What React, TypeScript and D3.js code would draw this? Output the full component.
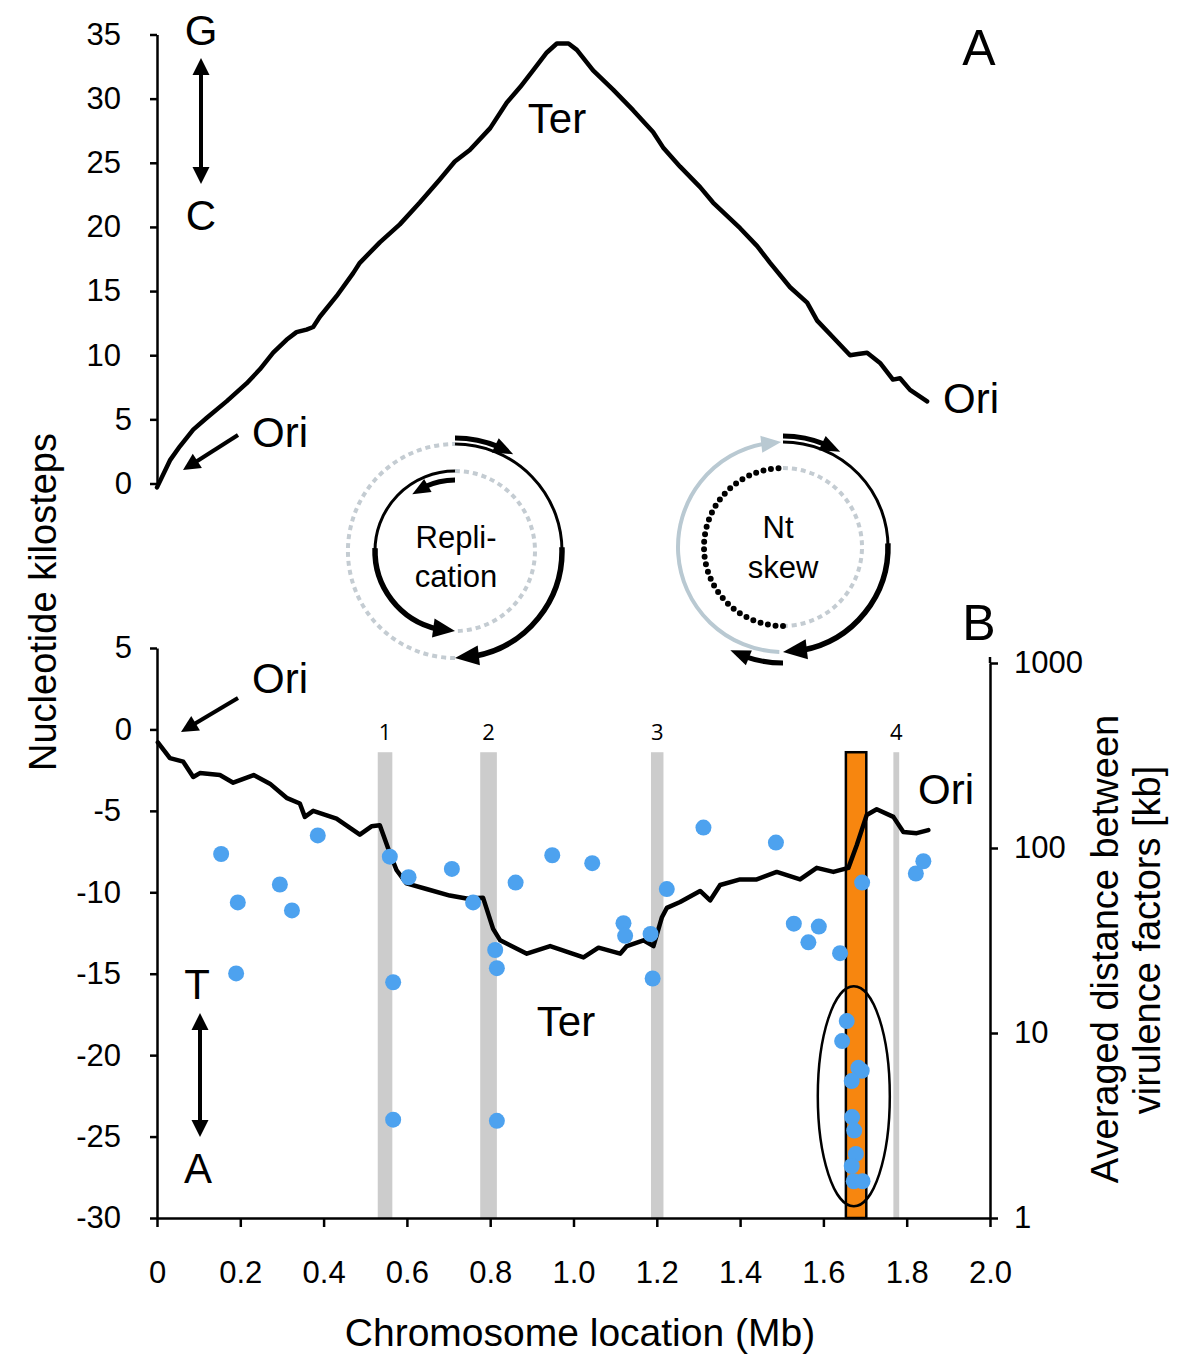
import { useEffect, useRef } from 'react';
import * as d3 from 'd3';

const FONT = "'Liberation Sans', Arial, sans-serif";

// Panel A - cumulative G/C skew: [chromosome location (Mb), nucleotide kilosteps]
const skewGC: [number, number][] = [
  [0, -0.3], [0.031, 1.8], [0.055, 2.9], [0.087, 4.2], [0.119, 5.1], [0.167, 6.4],
  [0.215, 7.8], [0.247, 8.9], [0.279, 10.2], [0.311, 11.2], [0.335, 11.8], [0.359, 12.0],
  [0.375, 12.2], [0.391, 13.0], [0.431, 14.6], [0.471, 16.4], [0.487, 17.2], [0.535, 18.8],
  [0.583, 20.2], [0.631, 21.9], [0.679, 23.7], [0.715, 25.1], [0.751, 26.0], [0.800, 27.7],
  [0.840, 29.7], [0.872, 30.9], [0.903, 32.2], [0.936, 33.6], [0.960, 34.3], [0.988, 34.3],
  [1.008, 33.8], [1.047, 32.2], [1.095, 30.7], [1.143, 29.1], [1.191, 27.4], [1.215, 26.2],
  [1.256, 24.7], [1.304, 23.1], [1.335, 21.9], [1.400, 19.9], [1.441, 18.5], [1.472, 17.2],
  [1.520, 15.3], [1.561, 14.1], [1.585, 12.7], [1.623, 11.4], [1.664, 10.0], [1.683, 10.1],
  [1.705, 10.2], [1.736, 9.4], [1.767, 8.1], [1.784, 8.2], [1.808, 7.3], [1.849, 6.4],
];

// Panel B - cumulative T/A skew
const skewTA: [number, number][] = [
  [0.002, -0.8], [0.031, -1.76], [0.063, -1.98], [0.087, -2.92], [0.103, -2.68], [0.151, -2.8],
  [0.183, -3.27], [0.232, -2.8], [0.271, -3.33], [0.311, -4.2], [0.343, -4.55], [0.355, -5.37],
  [0.375, -5.0], [0.431, -5.48], [0.487, -6.46], [0.515, -5.95], [0.535, -5.88], [0.559, -7.59],
  [0.575, -8.63], [0.599, -9.45], [0.647, -9.8], [0.703, -10.2], [0.743, -10.38], [0.783, -10.34],
  [0.807, -12.25], [0.824, -12.95], [0.888, -13.77], [0.944, -13.3], [1.024, -14.0], [1.060, -13.4],
  [1.112, -13.77], [1.128, -13.3], [1.168, -12.95], [1.192, -13.3], [1.212, -11.55], [1.224, -10.96],
  [1.256, -10.6], [1.304, -9.92], [1.328, -10.5], [1.352, -9.55], [1.400, -9.21], [1.440, -9.21],
  [1.488, -8.75], [1.544, -9.21], [1.584, -8.5], [1.624, -8.75], [1.660, -8.5], [1.680, -7.11],
  [1.704, -5.25], [1.728, -4.9], [1.768, -5.37], [1.792, -6.3], [1.824, -6.37], [1.852, -6.18],
];

// averaged distance between virulence factors: [location (Mb), distance (kb)]
const virulence: [number, number][] = [
  [0.154, 92.8], [0.194, 50.8], [0.190, 21.0], [0.295, 63.5], [0.324, 46.0], [0.386, 117],
  [0.559, 89.8], [0.567, 18.8], [0.567, 3.4], [0.604, 69.5], [0.708, 77.1], [0.759, 50.8],
  [0.812, 28.1], [0.816, 22.4], [0.816, 3.35], [0.861, 65.0], [0.949, 91.4], [1.045, 82.8],
  [1.120, 39.2], [1.124, 33.5], [1.185, 34.3], [1.190, 19.7], [1.224, 60.0], [1.312, 129],
  [1.486, 107], [1.529, 39.0], [1.564, 30.9], [1.589, 37.6], [1.640, 27.0], [1.693, 65.0],
  [1.822, 72.8], [1.840, 84.8],
  [1.656, 11.6], [1.645, 9.04], [1.684, 6.48], [1.692, 6.25], [1.668, 5.5], [1.669, 3.51],
  [1.674, 2.97], [1.678, 2.22], [1.668, 1.91], [1.673, 1.58], [1.694, 1.58],
];

const bandNames = ['1', '2', '3', '4'];
const bandFrom = [0.530, 0.776, 1.186, 1.768];
const bandTo = [0.565, 0.816, 1.216, 1.782];
const island = [1.654, 1.703];

const xTicks = [0, 0.2, 0.4, 0.6, 0.8, 1.0, 1.2, 1.4, 1.6, 1.8, 2.0];
const xTickLabels = ['0', '0.2', '0.4', '0.6', '0.8', '1.0', '1.2', '1.4', '1.6', '1.8', '2.0'];
const gcTicks = [0, 5, 10, 15, 20, 25, 30, 35];
const taTicks = [-30, -25, -20, -15, -10, -5, 0, 5];
const kbTicks = [1, 10, 100, 1000];

const App = () => {
  const svgRef = useRef<SVGSVGElement>(null);

  useEffect(() => {
    const svg = d3.select(svgRef.current);
    svg.selectAll('*').remove();

    const x = d3.scaleLinear().domain([0, 2]).range([157, 990]);
    const yA = d3.scaleLinear().domain([0, 35]).range([483.5, 34.5]);
    const yB = d3.scaleLinear().domain([-30, 5]).range([1218, 648]);
    const yR = d3.scaleLog().domain([1, 1000]).range([1218, 663]);

    const text = (s: string, tx: number, ty: number, size: number, anchor = 'middle') =>
      svg.append('text').attr('x', tx).attr('y', ty).attr('text-anchor', anchor)
        .style('font-family', FONT).style('font-size', `${size}px`).attr('fill', '#000').text(s);

    const head = (g: any, tx: number, ty: number, ux: number, uy: number, len: number, wid: number, color: string) => {
      const bx = tx - ux * len, by = ty - uy * len;
      const nx = -uy, ny = ux;
      g.append('path')
        .attr('d', `M${tx},${ty}L${bx + nx * wid / 2},${by + ny * wid / 2}L${bx - nx * wid / 2},${by - ny * wid / 2}Z`)
        .attr('fill', color);
    };

    const straightArrow = (x1: number, y1: number, x2: number, y2: number, both = false) => {
      const L = Math.hypot(x2 - x1, y2 - y1);
      const ux = (x2 - x1) / L, uy = (y2 - y1) / L;
      const hl = 17;
      svg.append('line')
        .attr('x1', both ? x1 + ux * (hl - 2) : x1).attr('y1', both ? y1 + uy * (hl - 2) : y1)
        .attr('x2', x2 - ux * (hl - 2)).attr('y2', y2 - uy * (hl - 2))
        .attr('stroke', '#000').attr('stroke-width', 4);
      head(svg, x2, y2, ux, uy, hl, 17, '#000');
      if (both) head(svg, x1, y1, -ux, -uy, hl, 17, '#000');
    };

    // ----- panel B background: bands and island -----
    bandNames.forEach((n, i) => {
      svg.append('rect')
        .attr('x', x(bandFrom[i])).attr('width', x(bandTo[i]) - x(bandFrom[i]))
        .attr('y', yB(-1.4)).attr('height', yB(-30) - yB(-1.4))
        .attr('fill', '#cccccc');
      svg.append('text')
        .attr('x', (x(bandFrom[i]) + x(bandTo[i])) / 2).attr('y', yB(-0.65))
        .attr('text-anchor', 'middle')
        .style('font-family', "'Open Sans', sans-serif").style('font-size', '22px')
        .text(n);
    });

    svg.append('rect')
      .attr('x', x(island[0])).attr('width', x(island[1]) - x(island[0]))
      .attr('y', yB(-1.4)).attr('height', yB(-30) - yB(-1.4))
      .attr('fill', '#f7860f').attr('stroke', '#000').attr('stroke-width', 2.5);

    // ----- skew curves -----
    const lineA = d3.line<[number, number]>().x(d => x(d[0])).y(d => yA(d[1]));
    const lineB = d3.line<[number, number]>().x(d => x(d[0])).y(d => yB(d[1]));

    svg.append('path').attr('d', lineA(skewGC)).attr('fill', 'none')
      .attr('stroke', '#000').attr('stroke-width', 4.5).attr('stroke-linejoin', 'round').attr('stroke-linecap', 'round');
    svg.append('path').attr('d', lineB(skewTA)).attr('fill', 'none')
      .attr('stroke', '#000').attr('stroke-width', 4.5).attr('stroke-linejoin', 'round').attr('stroke-linecap', 'round');

    // ----- virulence factor distances -----
    svg.append('g').selectAll('circle').data(virulence).join('circle')
      .attr('cx', d => x(d[0])).attr('cy', d => yR(d[1])).attr('r', 8)
      .attr('fill', '#4da2ef');

    // cluster ellipse
    svg.append('ellipse')
      .attr('cx', x(1.673)).attr('cy', yR(4.55)).attr('rx', 36).attr('ry', 110)
      .attr('fill', 'none').attr('stroke', '#000').attr('stroke-width', 2.5);

    // ----- axes -----
    const styleAxis = (g: any) => {
      g.attr('font-family', FONT).attr('font-size', 31);
      g.select('.domain').attr('stroke', '#000').attr('stroke-width', 2.5);
      g.selectAll('.tick line').attr('stroke', '#000').attr('stroke-width', 2.5);
      g.selectAll('.tick text').attr('fill', '#000');
    };
    // single digits sit further right than the longer labels, as in the source figure
    const leftLabelX = (d: any) => (String(d).length === 1 ? -25 : -36);

    svg.append('g').attr('transform', `translate(${x(0)},0)`)
      .call(d3.axisLeft(yA).tickValues(gcTicks).tickSize(7).tickSizeOuter(0).tickFormat(d => String(d)))
      .call(styleAxis)
      .selectAll('.tick text').attr('x', leftLabelX);

    svg.append('g').attr('transform', `translate(${x(0)},0)`)
      .call(d3.axisLeft(yB).tickValues(taTicks).tickSize(7).tickSizeOuter(0).tickFormat(d => String(d)))
      .call(styleAxis)
      .selectAll('.tick text').attr('x', leftLabelX);

    svg.append('line').attr('x1', x(2)).attr('x2', x(2)).attr('y1', yR(1000) - 6).attr('y2', yR(1000))
      .attr('stroke', '#000').attr('stroke-width', 2.5);
    svg.append('g').attr('transform', `translate(${x(2)},0)`)
      .call(d3.axisRight(yR).tickValues(kbTicks).tickSize(8).tickSizeOuter(0).tickPadding(16).tickFormat(d => String(d)))
      .call(styleAxis);

    const xAxis = svg.append('g').attr('transform', `translate(0,${yB(-30)})`)
      .call(d3.axisBottom(x).tickValues(xTicks).tickSize(9).tickSizeOuter(0).tickFormat((d, i) => xTickLabels[i]))
      .call(styleAxis);
    xAxis.selectAll('.tick text').attr('y', 65).attr('dy', 0);

    // ----- axis titles -----
    svg.append('text').attr('transform', 'translate(56,602) rotate(-90)')
      .attr('text-anchor', 'middle').style('font-family', FONT).style('font-size', '38px')
      .text('Nucleotide kilosteps');
    svg.append('text').attr('transform', 'translate(1118,949) rotate(-90)')
      .attr('text-anchor', 'middle').style('font-family', FONT).style('font-size', '38px')
      .text('Averaged distance between');
    svg.append('text').attr('transform', 'translate(1160,940) rotate(-90)')
      .attr('text-anchor', 'middle').style('font-family', FONT).style('font-size', '38px')
      .text('virulence factors [kb]');
    text('Chromosome location (Mb)', 580, 1346, 39);

    // ----- annotations -----
    text('A', 979, 65, 50);
    text('B', 979, 640, 50);
    text('G', 201, 45, 42);
    text('C', 201, 230, 42);
    straightArrow(201, 58, 201, 184, true);
    text('T', 197, 999, 42);
    text('A', 198, 1183, 42);
    straightArrow(200, 1013, 200, 1137, true);

    text('Ter', 557, 133, 42);
    text('Ter', 566, 1036, 42);
    text('Ori', 252, 447, 42, 'start');
    straightArrow(238, 435, 183, 470);
    text('Ori', 943, 413, 42, 'start');
    text('Ori', 252, 693, 42, 'start');
    straightArrow(238, 698, 181, 732);
    text('Ori', 918, 804, 42, 'start');

    // ----- replication / skew dials -----
    const pt = (cx: number, cy: number, r: number, deg: number) => {
      const a = deg * Math.PI / 180;
      return [cx + r * Math.sin(a), cy - r * Math.cos(a)];
    };
    const arcD = (cx: number, cy: number, r: number, a0: number, a1: number) => {
      const p = d3.path();
      const [x0, y0] = pt(cx, cy, r, a0);
      p.moveTo(x0, y0);
      p.arc(cx, cy, r, (a0 - 90) * Math.PI / 180, (a1 - 90) * Math.PI / 180, a1 < a0);
      return p.toString();
    };
    const arc = (cx: number, cy: number, r: number, a0: number, a1: number, color: string, w: number, dash: string | null = null, cap = 'butt') => {
      svg.append('path').attr('d', arcD(cx, cy, r, a0, a1)).attr('fill', 'none')
        .attr('stroke', color).attr('stroke-width', w)
        .attr('stroke-dasharray', dash).attr('stroke-linecap', cap);
    };
    const arcArrow = (cx: number, cy: number, r: number, a0: number, a1: number, color: string, w: number, hl = 22, hw = 19) => {
      const dir = a1 > a0 ? 1 : -1;
      const hd = (hl / r) * 180 / Math.PI;
      arc(cx, cy, r, a0, a1 - dir * hd * 0.8, color, w);
      const [tx, ty] = pt(cx, cy, r, a1);
      const [bx, by] = pt(cx, cy, r, a1 - dir * hd);
      const L = Math.hypot(tx - bx, ty - by);
      head(svg, tx, ty, (tx - bx) / L, (ty - by) / L, L, hw, color);
    };

    const grey = '#c4ccd2';
    // Replication
    {
      const cx = 455, cy = 551, R = 107, r = 80;
      arc(cx, cy, R, 180, 360, grey, 4, '5 4');
      arc(cx, cy, R, 0, 92, '#000', 3);
      arcArrow(cx, cy, R, 88, 180, '#000', 5.5, 24, 20);
      arcArrow(cx, cy, R + 6, 0, 31, '#000', 5, 20, 16);
      arc(cx, cy, r, 0, 180, grey, 4, '5 4');
      arc(cx, cy, r, 0, -92, '#000', 3);
      arcArrow(cx, cy, r, -88, -180, '#000', 5.5, 22, 19);
      arcArrow(cx, cy, r - 9, 0, -37, '#000', 5, 18, 15);
      text('Repli-', cx + 1, 548, 31);
      text('cation', cx + 1, 587, 31);
    }
    // Nt skew
    {
      const cx = 783, cy = 547, R = 105, r = 79;
      arcArrow(cx, cy, R, 182, 359, '#b9c9d2', 4, 20, 17);
      arc(cx, cy, R, 0, 92, '#000', 3);
      arcArrow(cx, cy, R, 88, 180, '#000', 5.5, 24, 20);
      arcArrow(cx, cy, R + 6, 0, 31, '#000', 5, 20, 16);
      arcArrow(cx, cy, R + 11, 180, 207, '#000', 5, 20, 16);
      arc(cx, cy, r, 0, 180, grey, 4, '5 4');
      arc(cx, cy, r, 180, 360, '#000', 6, '0 7.6', 'round');
      text('Nt', 778, 538, 31);
      text('skew', 783, 578, 31);
    }
  }, []);

  return (
    <svg
      ref={svgRef}
      width={1200}
      height={1361}
      style={{ position: 'absolute', left: 0, top: 0, background: '#fff' }}
    />
  );
};

export default App;
